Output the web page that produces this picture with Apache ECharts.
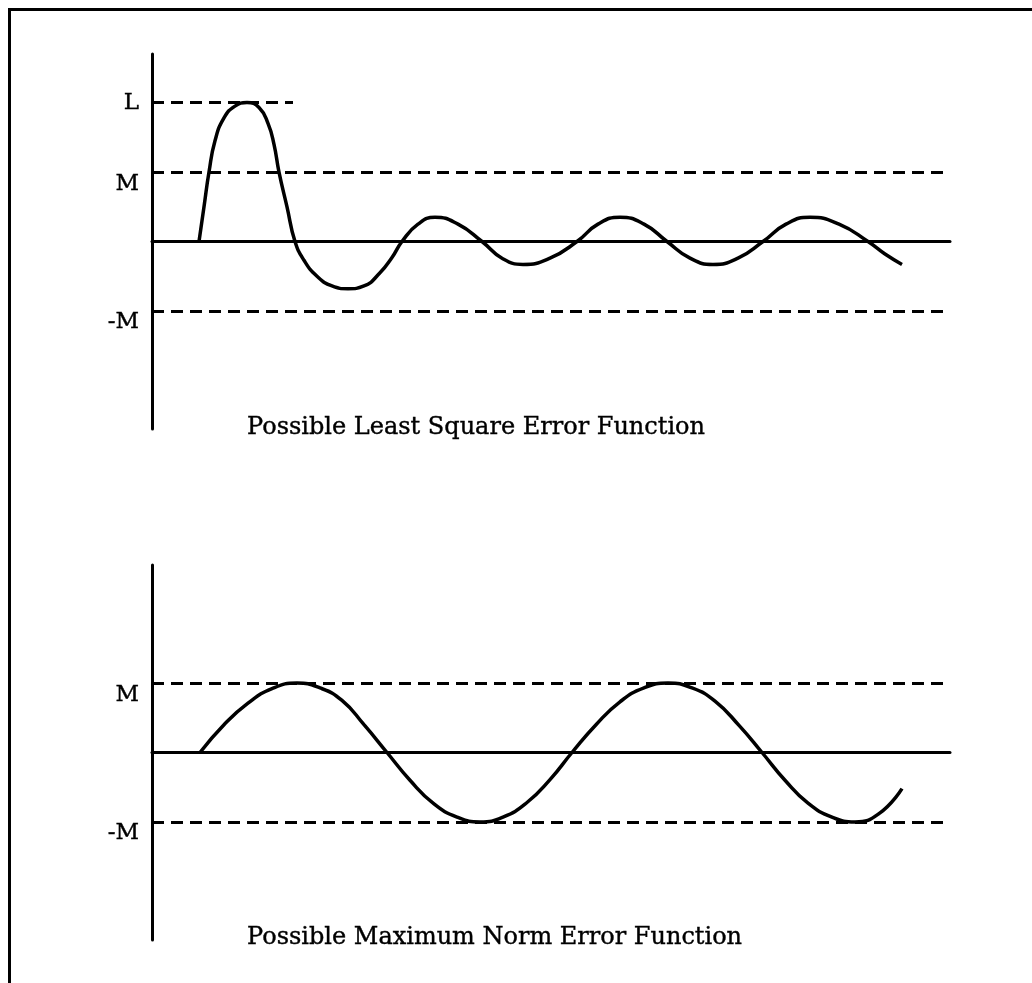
<!DOCTYPE html>
<html>
<head>
<meta charset="utf-8">
<script src="https://cdn.jsdelivr.net/npm/echarts@6/dist/echarts.min.js"></script>
<style>
  * { margin: 0; padding: 0; box-sizing: border-box; }
  body { background: #fff; width: 1032px; height: 983px; overflow: hidden; position: relative; }
  /* scanned page frame: only top and left edges are in the picture */
  .frame { position: absolute; left: 8px; top: 8px; width: 1030px; height: 980px;
           border-top: 3px solid #000; border-left: 3px solid #000; }
  #chart { position: absolute; left: 0; top: 0; width: 1032px; height: 983px; }
</style>
</head>
<body>
<div class="frame"></div>
<div id="chart"></div>
<script>
// ── data (x = distance along the axis, y in units of M) ─────────
const topX = [47, 52, 57, 63, 72, 83, 95, 107, 116, 122, 127, 135, 143, 152, 165, 180, 196,
  212, 228, 240, 250, 266, 283, 306, 330, 350, 371, 398, 425, 446, 468, 492, 515,
  538, 561, 586, 611, 634, 658, 687, 716, 733, 750];
const topY = [0, 0.5, 1.0, 1.45, 1.78, 1.95, 2.0, 1.93, 1.7, 1.4, 1.0, 0.5, 0, -0.27, -0.5,
  -0.64, -0.68, -0.64, -0.45, -0.23, 0, 0.25, 0.35, 0.25, 0, -0.24, -0.33, -0.24, 0, 0.25,
  0.35, 0.25, 0, -0.24, -0.33, -0.24, 0, 0.25, 0.35, 0.25, 0, -0.18, -0.33];

const bottomX = [48, 72, 96, 120, 145, 168, 190, 212, 235, 258, 282, 305, 328, 351, 375, 398,
  420, 444, 468, 492, 516, 540, 563, 587, 610, 633, 656, 680, 703, 727, 750];
const bottomY = [0, 0.40, 0.71, 0.92, 1.0, 0.93, 0.75, 0.40, 0, -0.40, -0.74, -0.93, -1.0,
  -0.93, -0.72, -0.39, 0, 0.40, 0.73, 0.93, 1.0, 0.93, 0.74, 0.39, 0, -0.40, -0.73, -0.93,
  -1.0, -0.88, -0.52];

const topLevelNames = ['L', 'M', '-M'];
const topLevels = [2, 1, -1];
const topLevelEnds = [141, 798, 798];
const bottomLevelNames = ['M', '-M'];
const bottomLevels = [1, -1];
const bottomLevelEnds = [798, 798];

const titles = ['Possible Least Square Error Function', 'Possible Maximum Norm Error Function'];

// ── style ───────────────────────────────────────────────────────
const INK = '#000';
const SERIF = "'DejaVu Serif', 'Liberation Serif', serif";
const X_MAX = 798, Y_LIM = 2.7;
// a thin outline in ink thickens the glyphs like the scanned print
const heavy = { textBorderColor: INK, textBorderWidth: 0.4 };

const zip = (xs, ys) => xs.map((x, i) => [x, ys[i]]);

// dashed level lines, label only at the left end
const levelLines = (names, vals, ends) => ({
  silent: true,
  symbol: ['none', 'none'],
  lineStyle: { color: INK, width: 3, type: [12, 7] },
  data: vals.map((v, i) => [
    { coord: [0, v], label: Object.assign({ show: true, formatter: names[i], position: 'start',
        distance: 13, color: INK, fontFamily: SERIF, fontSize: 23,
        verticalAlign: names[i] === 'L' ? 'middle' : 'top' }, heavy) },
    { coord: [ends[i], v] }
  ])
});

const grids = [
  { left: 152, right: 82, top: 54, height: 375 },
  { left: 152, right: 82, top: 565, height: 375 }
];

const axisX = i => ({
  type: 'value', gridIndex: i, min: 0, max: X_MAX,
  axisLine: { show: true, onZero: true, lineStyle: { color: INK, width: 3 } },
  axisTick: { show: false }, axisLabel: { show: false }, splitLine: { show: false }
});
const axisY = i => ({
  type: 'value', gridIndex: i, min: -Y_LIM, max: Y_LIM,
  axisLine: { show: true, lineStyle: { color: INK, width: 3 } },
  axisTick: { show: false }, axisLabel: { show: false }, splitLine: { show: false }
});

const curve = (i, xs, ys, lines) => ({
  type: 'line', xAxisIndex: i, yAxisIndex: i,
  data: zip(xs, ys), smooth: 0.5, showSymbol: false,
  lineStyle: { color: INK, width: 3.5 },
  markLine: lines
});

const chart = echarts.init(document.getElementById('chart'), null, { renderer: 'canvas' });
chart.setOption({
  animation: false,
  backgroundColor: 'transparent',
  title: titles.map((t, i) => ({
    text: t, left: 247, top: i === 0 ? 416 : 926, padding: 0,
    textStyle: Object.assign({ color: INK, fontFamily: SERIF, fontSize: 24, fontWeight: 'normal' }, heavy)
  })),
  grid: grids,
  xAxis: [axisX(0), axisX(1)],
  yAxis: [axisY(0), axisY(1)],
  series: [
    curve(0, topX, topY, levelLines(topLevelNames, topLevels, topLevelEnds)),
    curve(1, bottomX, bottomY, levelLines(bottomLevelNames, bottomLevels, bottomLevelEnds))
  ]
});
</script>
</body>
</html>
